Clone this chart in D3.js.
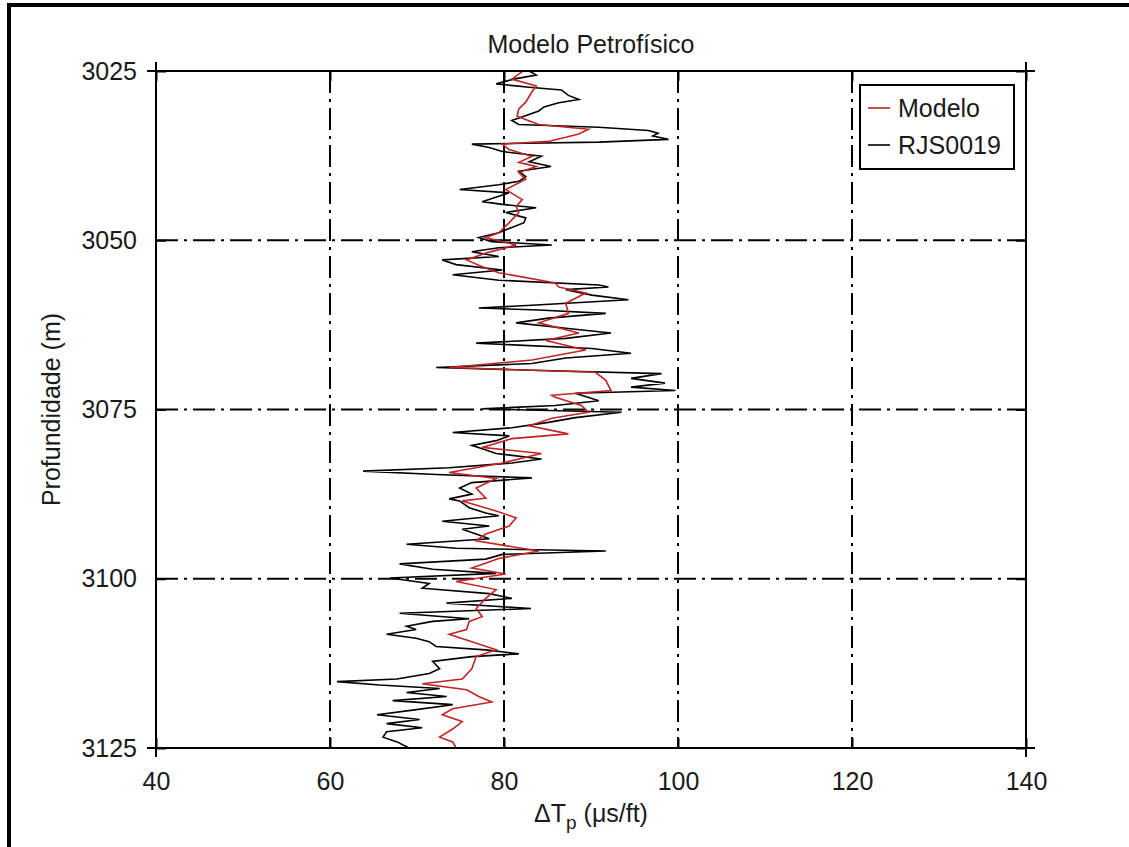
<!DOCTYPE html>
<html>
<head>
<meta charset="utf-8">
<script src="https://cdn.jsdelivr.net/npm/d3@7"></script>
<style>
  html, body { margin: 0; padding: 0; background: #fff; }
  svg { display: block; }
  text { font-family: "Liberation Sans", Arial, sans-serif; fill: #1a1a1a; }
</style>
</head>
<body>
<svg id="chart" width="1129" height="847"></svg>
<script>
// ---------- data ----------
const chartTitle = "Modelo Petrofísico";
const seriesNames = ["Modelo", "RJS0019"];
const xTicks = [40, 60, 80, 100, 120, 140];
const yTicks = [3025, 3050, 3075, 3100, 3125];

// RJS0019 (black)  depth (m) / ΔTp (µs/ft)
const depthRJS = [3025.0,3025.6,3026.2,3026.9,3027.4,3027.8,3028.6,3029.2,3029.7,3030.3,3030.9,3031.7,3032.3,3032.9,3033.3,3033.8,3034.2,3034.6,3035.1,3035.5,3035.8,3036.3,3036.9,3037.6,3038.4,3039.1,3039.8,3040.6,3041.3,3041.8,3042.5,3043.0,3043.5,3044.3,3044.7,3045.2,3045.9,3046.7,3047.4,3048.1,3048.9,3049.6,3050.2,3050.7,3051.1,3051.7,3052.4,3052.9,3053.6,3054.4,3055.1,3055.9,3056.6,3056.9,3057.3,3058.1,3058.8,3059.6,3060.0,3060.3,3060.8,3061.5,3062.2,3063.0,3063.7,3064.5,3065.2,3066.0,3066.7,3067.4,3068.2,3068.8,3069.2,3069.7,3070.4,3071.1,3071.7,3072.2,3072.6,3073.7,3074.4,3074.9,3075.4,3076.2,3076.9,3077.7,3078.4,3078.9,3079.6,3080.3,3080.8,3081.5,3082.3,3082.9,3083.6,3084.1,3084.6,3085.1,3085.8,3086.6,3087.5,3088.2,3088.5,3089.5,3090.3,3090.7,3091.5,3092.2,3092.7,3093.4,3094.1,3094.9,3095.5,3095.9,3096.4,3097.1,3097.8,3098.6,3099.2,3099.9,3100.7,3101.4,3102.2,3102.9,3103.6,3104.4,3105.1,3105.9,3106.3,3107.0,3107.5,3108.2,3108.8,3109.3,3110.0,3110.5,3111.1,3111.5,3112.2,3113.3,3114.0,3114.8,3115.2,3115.7,3116.2,3116.8,3117.4,3118.0,3118.6,3119.4,3120.1,3120.8,3121.4,3122.0,3122.6,3123.4,3124.1,3125.0];
const dtRJS = [82.9,83.7,81.1,79.1,82.9,86.6,87.4,88.6,86.3,84.6,84.0,82.3,80.9,81.7,90.9,96.6,97.7,97.1,98.9,90.9,76.3,78.3,79.8,84.3,82.9,85.4,81.7,82.5,81.7,79.4,74.9,80.6,79.4,77.5,79.8,83.7,80.2,82.5,82.3,80.9,79.4,77.1,78.6,85.5,79.4,76.3,79.4,72.9,74.5,79.8,74.1,79.4,90.9,92.0,87.1,90.1,94.3,83.2,77.1,84.0,91.7,85.1,81.4,87.1,92.3,87.1,76.8,90.1,94.6,87.1,83.2,72.2,83.2,98.1,94.6,98.5,94.6,99.7,88.2,90.9,85.9,77.5,93.5,88.2,85.1,80.9,74.1,80.6,79.1,76.3,77.5,79.1,84.3,80.9,73.7,63.8,72.2,83.2,76.3,74.9,76.3,73.7,74.9,76.0,77.9,79.4,72.9,78.3,75.2,76.8,78.3,68.8,74.5,91.7,79.8,77.9,68.0,71.8,79.1,66.9,71.4,70.6,78.3,80.9,73.4,83.1,68.0,76.0,71.8,68.8,69.9,66.5,69.9,71.4,72.2,77.9,81.7,76.3,71.8,72.6,71.4,67.7,60.8,65.7,72.6,68.8,73.4,67.2,74.1,69.5,65.4,70.3,66.5,70.6,66.5,66.1,67.7,69.1];

// Modelo (red)
const depthModelo = [3025.1,3026.2,3027.2,3028.1,3029.6,3030.6,3031.7,3032.9,3033.6,3034.3,3034.8,3035.4,3035.8,3036.6,3037.6,3038.5,3039.1,3040.0,3041.0,3042.5,3044.0,3045.0,3045.9,3047.4,3048.9,3049.6,3050.7,3051.9,3052.9,3053.9,3054.8,3056.3,3056.9,3057.8,3059.3,3060.8,3062.2,3063.7,3064.8,3066.2,3067.7,3068.8,3069.5,3070.7,3072.2,3072.9,3073.2,3074.4,3075.4,3076.3,3077.4,3078.6,3079.3,3080.6,3081.5,3082.9,3084.3,3085.2,3086.6,3088.1,3088.5,3090.0,3091.0,3092.2,3093.4,3094.4,3095.9,3097.0,3098.4,3099.3,3100.4,3101.6,3102.9,3104.4,3105.6,3106.3,3107.5,3108.2,3109.3,3110.5,3111.5,3113.3,3114.8,3115.5,3116.4,3117.4,3118.2,3119.2,3120.1,3121.1,3122.2,3123.4,3124.1,3125.0];
const dtModelo = [82.1,80.9,83.7,83.2,82.5,81.7,81.5,84.0,89.7,88.6,87.1,85.1,79.8,80.6,83.2,81.7,83.7,81.7,82.5,80.2,82.1,81.4,81.7,80.6,79.4,77.9,81.4,77.9,75.7,77.5,79.4,85.9,86.3,89.4,87.1,87.4,84.0,88.6,84.8,89.4,83.2,73.7,90.5,91.7,92.3,85.5,85.9,88.9,89.7,85.5,82.9,87.4,80.9,77.5,84.3,79.8,73.7,79.1,76.8,77.9,75.2,79.1,81.4,80.6,77.9,76.8,84.0,79.4,76.3,80.2,74.5,79.1,77.9,76.8,77.5,76.0,75.7,73.7,76.3,79.1,76.8,76.3,75.2,70.6,75.7,77.1,78.6,74.1,72.9,75.2,74.1,72.6,74.1,74.5];

// ---------- drawing ----------
const svg = d3.select("#chart");
const plot = {left: 156, right: 1026, top: 71, bottom: 748};

const x = d3.scaleLinear().domain([xTicks[0], xTicks[xTicks.length - 1]]).range([plot.left, plot.right]);
const y = d3.scaleLinear().domain([yTicks[0], yTicks[yTicks.length - 1]]).range([plot.top, plot.bottom]);

// figure border (left and top visible)
svg.append("line").attr("x1", 9).attr("x2", 9).attr("y1", 3).attr("y2", 847)
  .attr("stroke", "#000").attr("stroke-width", 4);
svg.append("line").attr("x1", 7).attr("x2", 1129).attr("y1", 5).attr("y2", 5)
  .attr("stroke", "#000").attr("stroke-width", 4);

// grid (dash-dot)
const grid = svg.append("g").attr("stroke", "#000").attr("stroke-width", 2)
  .attr("stroke-dasharray", "22,6,3,6").attr("fill", "none");
xTicks.slice(1, -1).forEach(v => {
  grid.append("line").attr("x1", x(v)).attr("x2", x(v)).attr("y1", plot.top).attr("y2", plot.bottom);
});
yTicks.slice(1, -1).forEach(v => {
  grid.append("line").attr("x1", plot.left).attr("x2", plot.right).attr("y1", y(v)).attr("y2", y(v));
});

// data lines
const line = d3.line().x(d => x(d[1])).y(d => y(d[0]));
const rjs = depthRJS.map((d, i) => [d, dtRJS[i]]);
const mod = depthModelo.map((d, i) => [d, dtModelo[i]]);
svg.append("path").datum(rjs).attr("d", line).attr("fill", "none")
  .attr("stroke", "#000").attr("stroke-width", 1.6).attr("stroke-linejoin", "miter");
svg.append("path").datum(mod).attr("d", line).attr("fill", "none")
  .attr("stroke", "#c02424").attr("stroke-width", 1.6);

// axes (ticks inward)
const fs = 25;
function styleAxis(g) {
  g.select(".domain").remove();
  g.selectAll(".tick line").attr("stroke", "#000").attr("stroke-width", 2);
  g.selectAll(".tick text").attr("font-size", fs).attr("font-family", '"Liberation Sans", Arial, sans-serif').attr("fill", "#1a1a1a");
}
svg.append("g").attr("transform", `translate(0,${plot.bottom})`)
  .call(d3.axisBottom(x).tickValues(xTicks).tickSize(-10).tickPadding(24).tickFormat(d3.format("d")))
  .call(styleAxis);
svg.append("g").attr("transform", `translate(0,${plot.top})`)
  .call(d3.axisTop(x).tickValues(xTicks).tickSize(-10).tickFormat(""))
  .call(styleAxis);
svg.append("g").attr("transform", `translate(${plot.left},0)`)
  .call(d3.axisLeft(y).tickValues(yTicks).tickSize(-10).tickPadding(19).tickFormat(d3.format("d")))
  .call(styleAxis);
svg.append("g").attr("transform", `translate(${plot.right},0)`)
  .call(d3.axisRight(y).tickValues(yTicks).tickSize(-10).tickFormat(""))
  .call(styleAxis);

// box (lines overshoot a little at the corners)
const ov = 9;
const box = svg.append("g").attr("stroke", "#000").attr("stroke-width", 2);
box.append("line").attr("x1", plot.left - ov).attr("x2", plot.right + ov).attr("y1", plot.top).attr("y2", plot.top);
box.append("line").attr("x1", plot.left - ov).attr("x2", plot.right + ov).attr("y1", plot.bottom).attr("y2", plot.bottom);
box.append("line").attr("x1", plot.left).attr("x2", plot.left).attr("y1", plot.top - ov).attr("y2", plot.bottom + ov);
box.append("line").attr("x1", plot.right).attr("x2", plot.right).attr("y1", plot.top - ov).attr("y2", plot.bottom + ov);

// title
svg.append("text").attr("x", (plot.left + plot.right) / 2).attr("y", 53)
  .attr("text-anchor", "middle").attr("font-size", fs).text(chartTitle);

// x label
const xl = svg.append("text").attr("x", (plot.left + plot.right) / 2).attr("y", 822)
  .attr("text-anchor", "middle").attr("font-size", fs);
xl.append("tspan").text("ΔT");
xl.append("tspan").attr("font-size", 19).attr("dy", 7).text("p");
xl.append("tspan").attr("dy", -7).text(" (μs/ft)");

// y label
svg.append("text").attr("transform", `translate(60,${(plot.top + plot.bottom) / 2}) rotate(-90)`)
  .attr("text-anchor", "middle").attr("font-size", fs).text("Profundidade (m)");

// legend
const lg = svg.append("g");
lg.append("rect").attr("x", 860).attr("y", 85).attr("width", 154).attr("height", 84)
  .attr("fill", "#fff").attr("stroke", "#000").attr("stroke-width", 2);
const legColors = ["#c02424", "#000"];
const legY = [108, 145];
seriesNames.forEach((n, i) => {
  lg.append("line").attr("x1", 868).attr("x2", 890).attr("y1", legY[i]).attr("y2", legY[i])
    .attr("stroke", legColors[i]).attr("stroke-width", 1.6);
  lg.append("text").attr("x", 898).attr("y", legY[i] + 9).attr("font-size", fs).text(n);
});
</script>
</body>
</html>
